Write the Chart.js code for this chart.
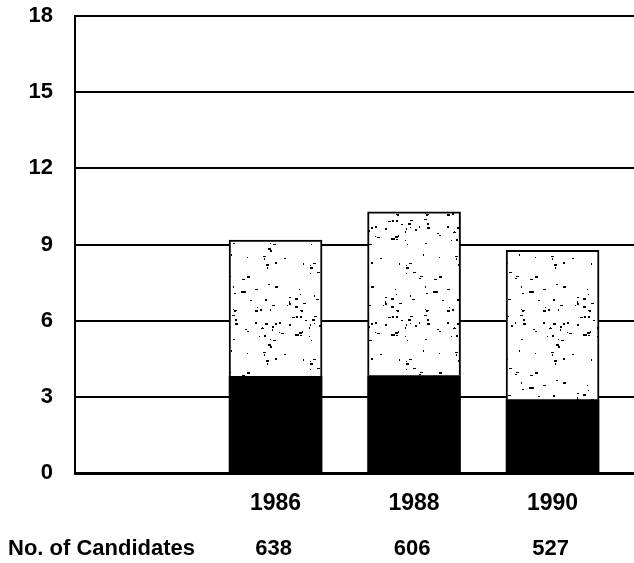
<!DOCTYPE html>
<html>
<head>
<meta charset="utf-8">
<script src="https://cdn.jsdelivr.net/npm/chart.js@4.4.0/dist/chart.umd.min.js"></script>
<style>
  html, body { margin: 0; padding: 0; background: #fff; }
  #wrap { width: 634px; height: 563px; }
</style>
</head>
<body>
<div id="wrap"><canvas id="c" width="634" height="563"></canvas></div>
<script>
// ---- data ----
const years = ['1986', '1988', '1990'];
const candidates = [638, 606, 527];
const lowerValues = [3.81, 3.84, 2.89];
const upperValues = [5.36, 6.45, 5.88];
const yTicks = [0, 3, 6, 9, 12, 15, 18];
const candidatesLabel = 'No. of Candidates';

const FONT = "'Liberation Sans', Arial, Helvetica, sans-serif";

// stipple texture for the upper segment
function makeStipple() {
  const c = document.createElement('canvas');
  c.width = 96; c.height = 96;
  const g = c.getContext('2d');
  g.fillStyle = '#fff';
  g.fillRect(0, 0, 96, 96);
  g.fillStyle = '#000';
  let s = 987654;
  const rnd = () => { s = (s * 1103515245 + 12345) % 2147483648; return s / 2147483648; };
  for (let i = 0; i < 90; i++) {
    const x = Math.floor(rnd() * 96), y = Math.floor(rnd() * 96);
    const w = 1 + Math.floor(rnd() * 3);
    g.fillRect(x, y, w, 1 + Math.floor(rnd() * 2));
  }
  return g.createPattern(c, 'repeat');
}
const stipple = makeStipple();

const bottomText = {
  id: 'bottomText',
  afterDraw(chart) {
    const ctx = chart.ctx;
    const xs = chart.scales.x;
    ctx.save();
    ctx.fillStyle = '#000';
    ctx.font = 'bold 22px ' + FONT;
    ctx.textBaseline = 'middle';
    ctx.textAlign = 'left';
    ctx.fillText(candidatesLabel, 8, 549);
    ctx.textAlign = 'center';
    candidates.forEach((n, i) => {
      ctx.fillText(String(n), xs.getPixelForValue(i + 1) - 2, 549);
    });
    ctx.restore();
  }
};

new Chart(document.getElementById('c'), {
  type: 'bar',
  data: {
    datasets: [
      {
        label: 'lower',
        data: lowerValues.map((v, i) => ({ x: i + 1, y: v })),
        backgroundColor: '#000',
        borderColor: '#000',
        borderWidth: 0,
        barThickness: 93
      },
      {
        label: 'upper',
        data: upperValues.map((v, i) => ({ x: i + 1, y: v })),
        backgroundColor: stipple,
        borderColor: '#000',
        borderWidth: 2,
        borderSkipped: 'bottom',
        barThickness: 93
      }
    ]
  },
  options: {
    responsive: false,
    animation: false,
    devicePixelRatio: 1,
    layout: { padding: { top: 16, right: 0, left: 0, bottom: 0 } },
    plugins: { legend: { display: false }, tooltip: { enabled: false } },
    scales: {
      x: {
        type: 'linear',
        stacked: true,
        offset: false,
        min: -0.448,
        max: 3.588,
        afterBuildTicks(scale) {
          scale.ticks = years.map((y, i) => ({ value: i + 1 }));
        },
        afterFit(scale) { scale.height = 90; scale.paddingLeft = 0; scale.paddingRight = 0; },
        grid: { display: false, drawTicks: false },
        border: { display: true, color: '#000', width: 3 },
        ticks: {
          autoSkip: false,
          padding: 17,
          color: '#000',
          font: { family: FONT, size: 23, weight: 'bold' },
          callback: (v) => years[v - 1] || ''
        }
      },
      y: {
        stacked: true,
        min: 0,
        max: 18,
        afterBuildTicks(scale) {
          scale.ticks = yTicks.map(v => ({ value: v }));
        },
        afterFit(scale) { scale.width = 75; scale.paddingTop = 0; scale.paddingBottom = 0; },
        grid: { color: '#000', lineWidth: 2, drawTicks: false },
        border: { display: true, color: '#000', width: 2 },
        ticks: {
          padding: 22,
          color: '#000',
          font: { family: FONT, size: 22, weight: 'bold' }
        }
      }
    }
  },
  plugins: [bottomText]
});
</script>
</body>
</html>
